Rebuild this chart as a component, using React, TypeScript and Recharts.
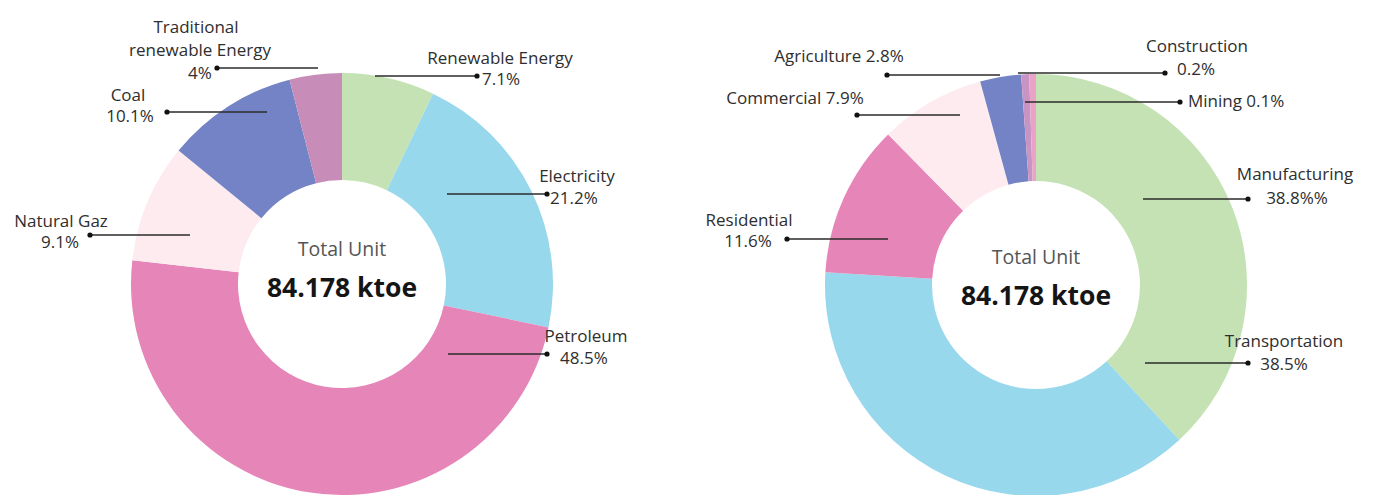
import {PieChart, Pie, Cell, Label} from 'recharts';

// left donut: final energy by source
const sourceNames = ['Renewable Energy', 'Electricity', 'Petroleum', 'Natural Gaz', 'Coal', 'Traditional renewable Energy'];
const sourceShares = [7.1, 21.2, 48.5, 9.1, 10.1, 4];
const sourceLabelText = [
	['Renewable Energy', '7.1%'],
	['Electricity', '21.2%'],
	['Petroleum', '48.5%'],
	['Natural Gaz', '9.1%'],
	['Coal', '10.1%'],
	['Traditional', 'renewable Energy', '4%'],
];

// right donut: final energy by sector
const sectorNames = ['Manufacturing', 'Transportation', 'Residential', 'Commercial', 'Agriculture', 'Construction', 'Mining'];
const sectorShares = [38.8, 38.5, 11.6, 7.9, 2.8, 0.2, 0.1];
const sectorLabelText = [
	['Manufacturing', '38.8%%'],
	['Transportation', '38.5%'],
	['Residential', '11.6%'],
	['Commercial 7.9%'],
	['Agriculture 2.8%'],
	['Construction', '0.2%'],
	['Mining 0.1%'],
];

const totalTitle = 'Total Unit';
const totalValue = '84.178 ktoe';

const sourceColors = ['#c4e2b4', '#98d8ec', '#e685b8', '#fdebf0', '#7383c6', '#c78db8'];
const sectorColors = ['#c4e2b4', '#98d8ec', '#e685b8', '#fdebf0', '#7383c6', '#c894c4', '#eaa3c6'];

type TextPos = {x: number; y: number; anchor: 'start' | 'middle' | 'end'};
type LabelLayout = {x1: number; x2: number; y: number; texts: TextPos[]};

// leader-line / text placement relative to the donut centre
const sourceLayout: LabelLayout[] = [
	{x1: 38, x2: 140, y: -203, texts: [{x: 163, y: -222, anchor: 'middle'}, {x: 145, y: -201, anchor: 'start'}]},
	{x1: 110, x2: 210, y: -85, texts: [{x: 240, y: -104, anchor: 'middle'}, {x: 213, y: -82, anchor: 'start'}]},
	{x1: 111, x2: 210, y: 75, texts: [{x: 249, y: 56, anchor: 'middle'}, {x: 223, y: 78, anchor: 'start'}]},
	{x1: -147, x2: -247, y: -44, texts: [{x: -276, y: -59, anchor: 'middle'}, {x: -277, y: -38, anchor: 'middle'}]},
	{x1: -70, x2: -170, y: -167, texts: [{x: -209, y: -185, anchor: 'middle'}, {x: -207, y: -164, anchor: 'middle'}]},
	{
		x1: -19,
		x2: -120,
		y: -211,
		texts: [
			{x: -141, y: -253, anchor: 'middle'},
			{x: -137, y: -230, anchor: 'middle'},
			{x: -137, y: -207, anchor: 'middle'},
		],
	},
];

const sectorLayout: LabelLayout[] = [
	{x1: 112, x2: 217, y: -81, texts: [{x: 264, y: -107, anchor: 'middle'}, {x: 266, y: -83, anchor: 'middle'}]},
	{x1: 114, x2: 217, y: 83, texts: [{x: 253, y: 60, anchor: 'middle'}, {x: 253, y: 83, anchor: 'middle'}]},
	{x1: -143, x2: -244, y: -41, texts: [{x: -282, y: -61, anchor: 'middle'}, {x: -283, y: -40, anchor: 'middle'}]},
	{x1: -71, x2: -174, y: -165, texts: [{x: -236, y: -183, anchor: 'middle'}]},
	{x1: -31, x2: -144, y: -205, texts: [{x: -192, y: -225, anchor: 'middle'}]},
	{x1: -13, x2: 134, y: -207, texts: [{x: 166, y: -235, anchor: 'middle'}, {x: 146, y: -212, anchor: 'start'}]},
	{x1: -6, x2: 149, y: -178, texts: [{x: 157, y: -180, anchor: 'start'}]},
];

const FONT = '"Open Sans", "Noto Sans", sans-serif';

const sourceData = sourceNames.map((name, i) => ({name, value: sourceShares[i]}));
const sectorData = sectorNames.map((name, i) => ({name, value: sectorShares[i]}));

function makeLabel(cx: number, cy: number, layout: LabelLayout[], text: string[][]) {
	return (props: any) => {
		const i = props.index;
		const l = layout[i];
		if (!l) return null;
		return (
			<g>
				<line x1={cx + l.x1} y1={cy + l.y} x2={cx + l.x2} y2={cy + l.y} stroke="#2b2b2b" strokeWidth={1.3} />
				<circle cx={cx + l.x2} cy={cy + l.y} r={2.6} fill="#111" />
				{text[i].map((t, j) => (
					<text
						key={j}
						x={cx + l.texts[j].x}
						y={cy + l.texts[j].y}
						textAnchor={l.texts[j].anchor}
						dominantBaseline="central"
						fontFamily={FONT}
						fontSize={17}
						fill="#2e2e2e"
					>
						{t}
					</text>
				))}
			</g>
		);
	};
}

function centerText(cx: number, cy: number) {
	return () => (
		<g>
			<text x={cx + 5} y={cy - 31} textAnchor="middle" dominantBaseline="central" fontFamily={FONT} fontSize={19.5} fill="#555">
				{totalTitle}
			</text>
			<text x={cx + 5} y={cy + 8} textAnchor="middle" dominantBaseline="central" fontFamily={FONT} fontSize={26.5} fontWeight={700} fill="#151515">
				{totalValue}
			</text>
		</g>
	);
}

const LCX = 337;
const LCY = 279;
const RCX = 1031;
const RCY = 280;

export default function App() {
	return (
		<div style={{position: 'absolute', left: 0, top: 0, background: '#fff'}}>
			<PieChart width={1376} height={495}>
				<Pie
					data={sourceData}
					dataKey="value"
					nameKey="name"
					cx={LCX}
					cy={LCY}
					innerRadius={104}
					outerRadius={211}
					startAngle={90}
					endAngle={-270}
					stroke="none"
					labelLine={false}
					label={makeLabel(LCX, LCY, sourceLayout, sourceLabelText)}
					isAnimationActive={false}
				>
					{sourceData.map((d, i) => (
						<Cell key={d.name} fill={sourceColors[i]} />
					))}
					<Label position="center" content={centerText(LCX, LCY)} />
				</Pie>
				<Pie
					data={sectorData}
					dataKey="value"
					nameKey="name"
					cx={RCX}
					cy={RCY}
					innerRadius={104}
					outerRadius={211}
					startAngle={90}
					endAngle={-270}
					minAngle={1.5}
					stroke="none"
					labelLine={false}
					label={makeLabel(RCX, RCY, sectorLayout, sectorLabelText)}
					isAnimationActive={false}
				>
					{sectorData.map((d, i) => (
						<Cell key={d.name} fill={sectorColors[i]} />
					))}
					<Label position="center" content={centerText(RCX, RCY + 7)} />
				</Pie>
			</PieChart>
		</div>
	);
}
